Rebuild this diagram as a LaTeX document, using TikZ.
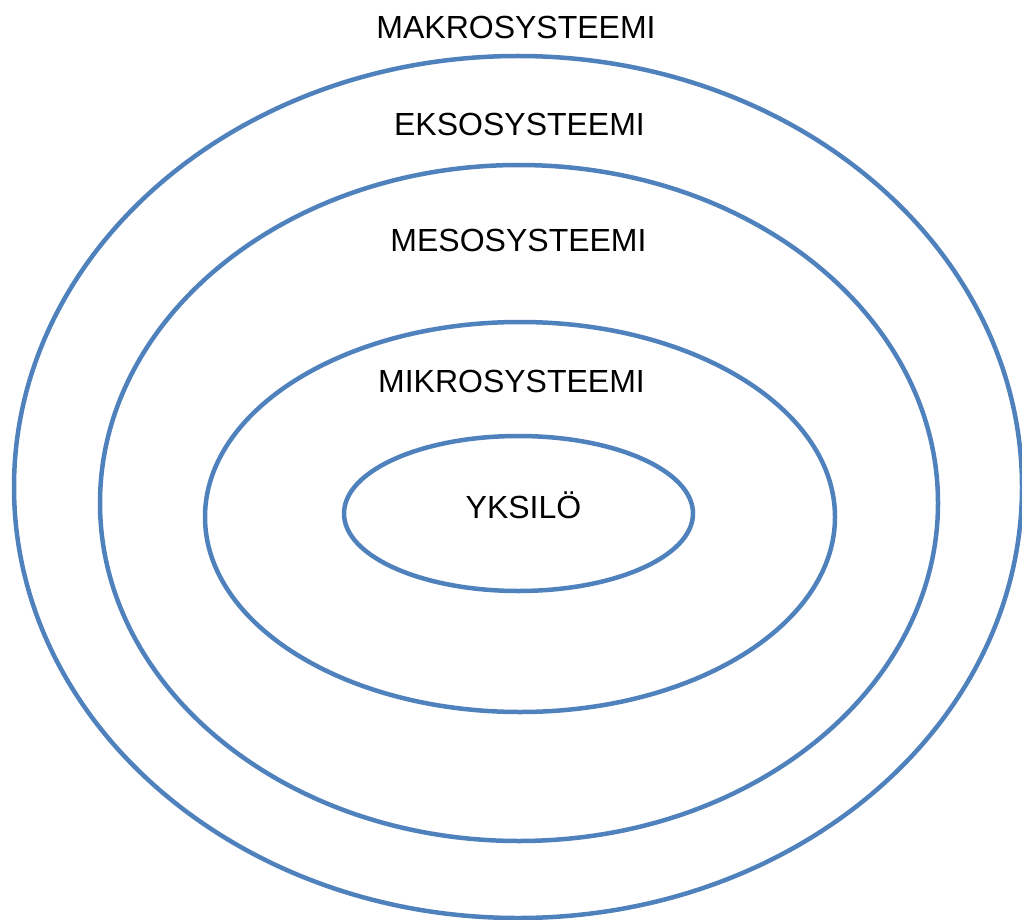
\documentclass[tikz,border=0pt]{standalone}
\usepackage{fontspec}
\setmainfont{Liberation Sans}
\usepackage{tikz}
\usetikzlibrary{shapes,positioning}
\definecolor{ringblue}{HTML}{4F81BD}
\tikzstyle{ring}=[draw=ringblue, line width=4.5pt, ellipse, inner sep=0, outer sep=0]
\tikzstyle{lbl}=[anchor=base, inner sep=0, font=\fontsize{32}{38}\selectfont]
\newcommand{\drawring}{\node[ring]}
\newcommand{\drawlabel}{\node[lbl]}

\begin{document}
\begin{tikzpicture}[x=1pt,y=-1pt]

	\useasboundingbox (0,0) rectangle (1022,920);

	\drawring[minimum width=1008pt, minimum height=862pt] (makro) at (518,487) {};
	\drawring[minimum width=838pt, minimum height=676pt] (ekso) at (519,503) {};
	\drawring[minimum width=630pt, minimum height=390pt] (meso) at (520,517) {};
	\drawring[minimum width=349pt, minimum height=155pt] (yksilo) at (518.5,513.5) {};

	\drawlabel (makrotxt) at (516,39) {MAKROSYSTEEMI};
	\drawlabel (eksotxt) at (519.5,136) {EKSOSYSTEEMI};
	\drawlabel (mesotxt) at (518.5,251) {MESOSYSTEEMI};
	\drawlabel (mikrotxt) at (511.5,392) {MIKROSYSTEEMI};
	\drawlabel (yksilotxt) at (523.5,518) {YKSILÖ};

\end{tikzpicture}
\end{document}
